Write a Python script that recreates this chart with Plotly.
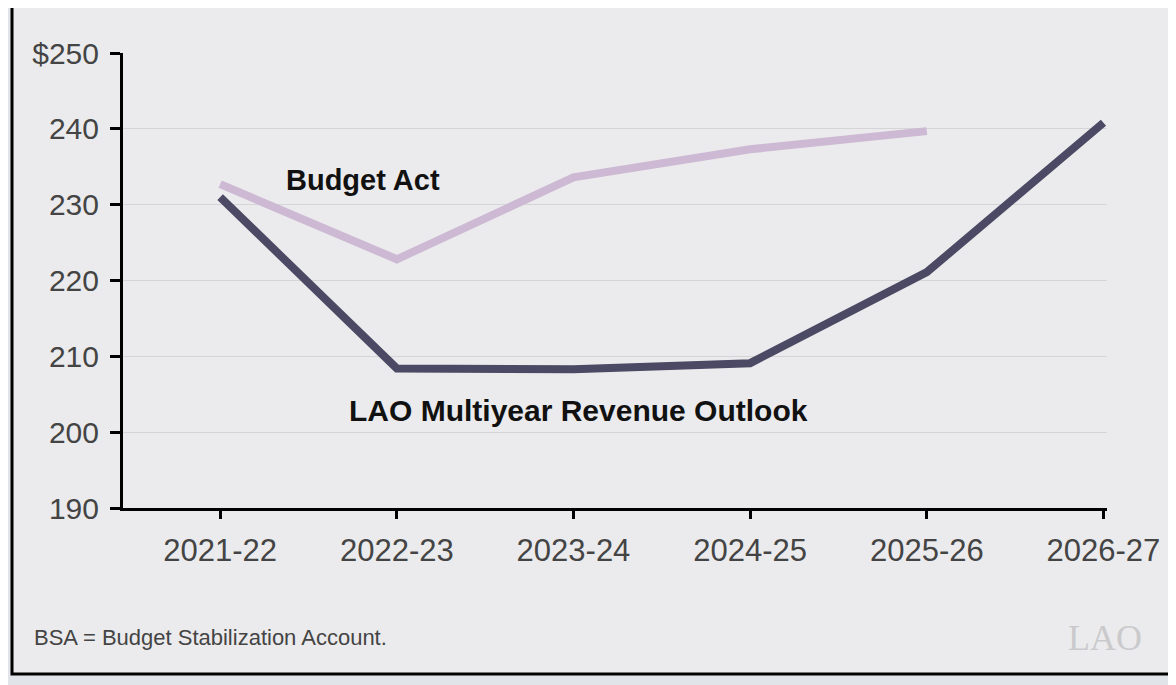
import plotly.graph_objects as go

years = ["2021-22", "2022-23", "2023-24", "2024-25", "2025-26", "2026-27"]
budget_act = [232.7, 222.8, 233.6, 237.3, 239.7, None]
lao_outlook = [231.0, 208.4, 208.3, 209.1, 221.1, 240.8]

y_ticks = [190, 200, 210, 220, 230, 240, 250]
y_tick_text = ["190", "200", "210", "220", "230", "240", "$250"]

fig = go.Figure()

fig.add_trace(go.Scatter(
    x=years, y=budget_act, mode="lines", name="Budget Act",
    line=dict(color="#cdb9d3", width=8), connectgaps=False,
))
fig.add_trace(go.Scatter(
    x=years, y=lao_outlook, mode="lines", name="LAO Multiyear Revenue Outlook",
    line=dict(color="#4b4963", width=8),
))

# inner panel with black frame
fig.add_shape(type="rect", xref="paper", yref="paper",
              x0=-0.1128, x1=1.2, y0=-0.365, y1=1.108,
              fillcolor="#ebebed", line=dict(color="black", width=3), layer="below")

fig.add_annotation(text="<b>Budget Act</b>", xref="paper", yref="y",
                   x=0.244, y=233.3, xanchor="center", showarrow=False,
                   font=dict(family="Liberation Sans, Arial", size=29, color="#111111"))
fig.add_annotation(text="<b>LAO Multiyear Revenue Outlook</b>", xref="paper", yref="y",
                   x=0.4634, y=202.9, xanchor="center", showarrow=False,
                   font=dict(family="Liberation Sans, Arial", size=30, color="#111111"))
fig.add_annotation(text="BSA = Budget Stabilization Account.", xref="paper", yref="paper",
                   x=-0.0925, y=-0.2857, xanchor="left", yanchor="middle", showarrow=False,
                   font=dict(family="Liberation Sans, Arial", size=22, color="#444444"))
fig.add_annotation(text="LAO", xref="paper", yref="paper",
                   x=0.998, y=-0.2857, xanchor="center", yanchor="middle", showarrow=False,
                   font=dict(family="Liberation Serif, Times New Roman", size=36, color="#cacacc"))

fig.update_xaxes(
    type="category", range=[-0.55, 5.02],
    showline=True, linecolor="black", linewidth=3,
    ticks="outside", ticklen=8, tickwidth=3, tickcolor="black",
    ticklabelstandoff=5,
    showgrid=False, zeroline=False,
    tickfont=dict(family="Liberation Sans, Arial", size=31, color="#444444"),
)
fig.update_yaxes(
    range=[190, 250], tickvals=y_ticks, ticktext=y_tick_text,
    showline=True, linecolor="black", linewidth=3,
    ticks="outside", ticklen=10, tickwidth=3, tickcolor="black",
    ticklabelstandoff=5,
    showgrid=True, gridcolor="#d5d5d8", gridwidth=1, zeroline=False,
    tickfont=dict(family="Liberation Sans, Arial", size=30, color="#444444"),
)

fig.update_layout(
    width=1176, height=685,
    margin=dict(l=115, r=77, t=45, b=185),
    paper_bgcolor="#e1e4e9", plot_bgcolor="rgba(0,0,0,0)",
    showlegend=False,
)

fig.write_html("out.html")
